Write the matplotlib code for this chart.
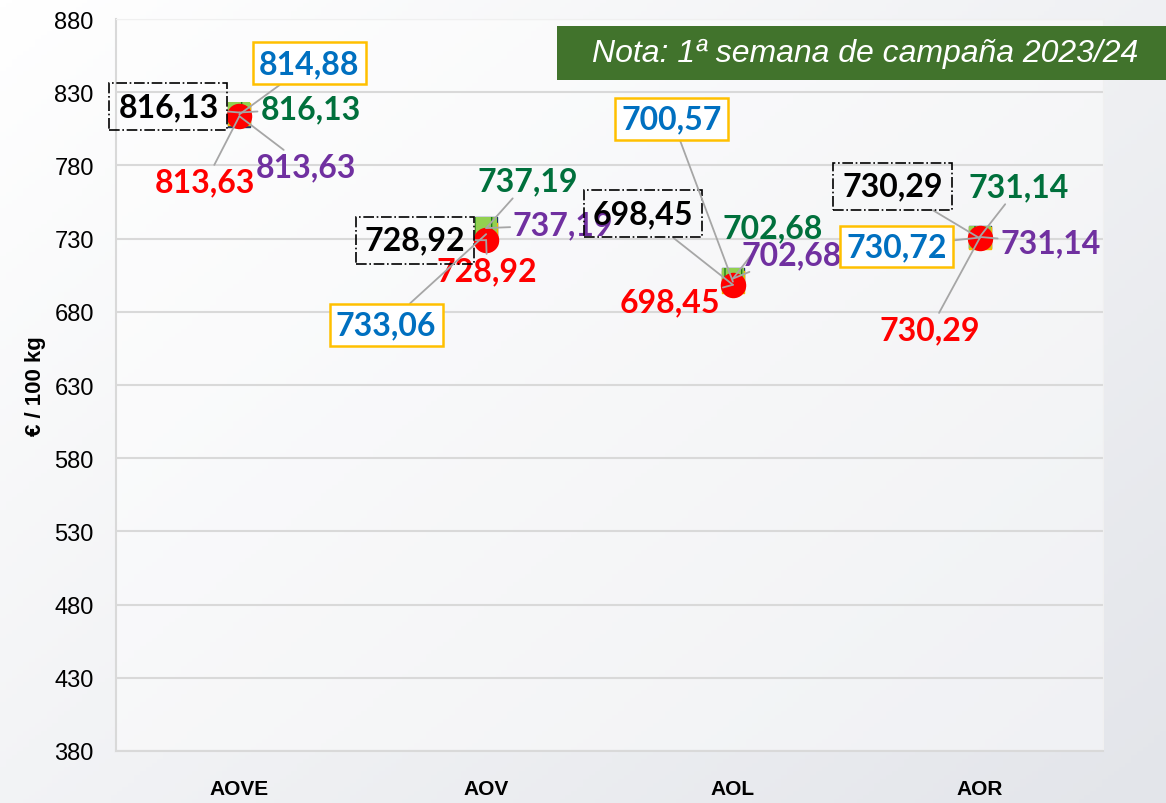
import matplotlib.pyplot as plt
import numpy as np
from matplotlib.patches import Rectangle

# Data
categories = ["AOVE", "AOV", "AOL", "AOR"]
serie_azul = [814.88, 733.06, 700.57, 730.72]
serie_verde = [816.13, 737.19, 702.68, 731.14]
serie_morada = [813.63, 737.19, 702.68, 731.14]
serie_negra = [816.13, 728.92, 698.45, 730.29]
serie_roja = [813.63, 728.92, 698.45, 730.29]
y_ticks = [380, 430, 480, 530, 580, 630, 680, 730, 780, 830, 880]
nota = "Nota: 1ª semana de campaña 2023/24"

# label offsets in pixels (dx, dy) for each category
off_azul = [(70, 51), (-100, -91), (-61, 163), (-83, -9)]
off_verde = [(71, 4), (42, 47), (40, 51), (39, 50)]
off_morada = [(67, -51), (77, 3), (59, 24), (71, -6)]
off_negra = [(-71, 6), (-71, 0), (-90, 71), (-87, 52)]
off_roja = [(-34, -66), (1, -31), (-63, -17), (-50, -92)]

fig = plt.figure(figsize=(11.66, 8.04), dpi=100)

# background gradient
bg = fig.add_axes([0, 0, 1, 1], zorder=-10)
xx, yy = np.meshgrid(np.linspace(0, 1, 200), np.linspace(0, 1, 200))
grad = 0.55 * xx + 0.45 * yy
bg.imshow(grad, cmap=plt.matplotlib.colors.LinearSegmentedColormap.from_list(
    "bg", ["#ffffff", "#e3e5ea"]), extent=[0, 1, 0, 1], aspect="auto", origin="upper")
bg.axis("off")

ax = fig.add_axes([0.0995, 0.0647, 0.8465, 0.9104])
ax.set_facecolor((1, 1, 1, 0.45))
x = np.arange(len(categories))

ax.set_ylim(380, 880)
ax.set_xlim(-0.5, len(categories) - 0.5)
ax.set_yticks(y_ticks)
ax.set_xticks(x)
ax.set_xticklabels(categories, fontsize=15, fontweight="bold", family="Liberation Sans")
ax.tick_params(axis="x", length=0, pad=20)
ax.tick_params(axis="y", length=0, pad=16, labelsize=17)
for lab in ax.get_yticklabels():
    lab.set_family("Liberation Sans")
ax.grid(axis="y", color="#d9d9d9", linewidth=1.5)
ax.set_axisbelow(True)
for s in ["top", "right"]:
    ax.spines[s].set_color("#f0f0f0")
for s in ["left", "bottom"]:
    ax.spines[s].set_color("#d9d9d9")
    ax.spines[s].set_linewidth(1.5)
ax.set_ylabel("€ / 100 kg", fontsize=16, fontweight="bold", family="Liberation Sans", labelpad=6)

# markers
ax.scatter(x, serie_morada, marker="s", s=250, color="#1f3864", zorder=3)
ax.scatter(x, serie_azul, marker="s", s=250, color="#f5b800", zorder=4)
ax.scatter(x, serie_verde, marker="s", s=250, facecolor="#92d050", edgecolor="#1e7b1e",
           linewidth=0, hatch="|", zorder=5)
ax.scatter(x, serie_roja, marker="o", s=300, color="#ff0000", zorder=6)

line_kw = dict(arrowstyle="-", color="#a6a6a6", lw=1.3, shrinkA=0, shrinkB=0)
font = dict(family="Lato", fontweight="bold", fontsize=23, ha="center", va="center")


def etiquetas(valores, offsets, color, bbox=None):
    for xi, v, (dx, dy) in zip(x, valores, offsets):
        ax.annotate(f"{v:.2f}".replace(".", ","), xy=(xi, v), xytext=(dx, dy),
                    textcoords="offset pixels", color=color, bbox=bbox,
                    arrowprops=line_kw, zorder=8, **font)


etiquetas(serie_verde, off_verde, "#00703c")
etiquetas(serie_morada, off_morada, "#7030a0")
etiquetas(serie_roja, off_roja, "#ff0000")
etiquetas(serie_negra, off_negra, "black",
          bbox=dict(boxstyle="square,pad=0.28", facecolor="none", edgecolor="black",
                    linestyle="-.", linewidth=1.2))
etiquetas(serie_azul, off_azul, "#0070c0",
          bbox=dict(boxstyle="square,pad=0.2", facecolor="white", edgecolor="#ffc000",
                    linewidth=1.8))

# note box
fig.patches.append(Rectangle((557 / 1166, 1 - 81 / 804), 1 - 557 / 1166, 54 / 804,
                             transform=fig.transFigure, facecolor="#41732c",
                             edgecolor="none", zorder=5))
fig.text(865 / 1166, 1 - 54 / 804, nota, color="white", fontsize=23, style="italic",
         family="Liberation Sans", ha="center", va="center", zorder=6)

fig.savefig("out.png", dpi=100)
